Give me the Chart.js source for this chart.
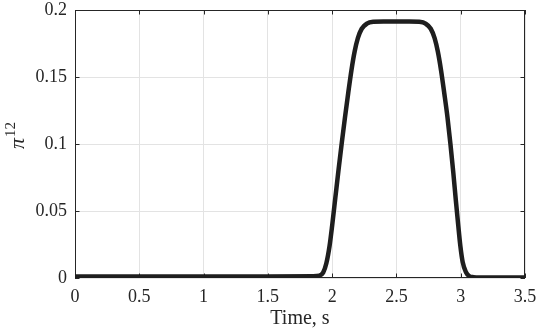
<!DOCTYPE html>
<html>
<head>
<meta charset="utf-8">
<script src="https://cdn.jsdelivr.net/npm/chart.js@4.4.1/dist/chart.umd.min.js"></script>
<style>
    html, body { margin: 0; padding: 0; background: #ffffff; }
    #chart { display: block; }
</style>
</head>
<body>
<canvas id="chart" width="540" height="336"></canvas>
<script>
// #region [01] Data (数据)
const timeValues = [
    0, 0.5, 1, 1.5, 1.85, 1.9, 1.93, 1.955, 1.98, 2.0,
    2.025, 2.05, 2.075, 2.1, 2.125, 2.15, 2.175, 2.2, 2.23, 2.27,
    2.32, 2.4, 2.5, 2.6, 2.677, 2.727, 2.767, 2.797, 2.822, 2.847,
    2.872, 2.897, 2.92, 2.942, 2.962, 2.98, 2.997, 3.015, 3.04, 3.065,
    3.1, 3.15, 3.5
];
const piValues = [
    0.0012, 0.0012, 0.0012, 0.0012, 0.0013, 0.0017, 0.004, 0.011, 0.024, 0.039,
    0.06, 0.081, 0.101, 0.12, 0.138, 0.155, 0.169, 0.179, 0.186, 0.1898,
    0.1912, 0.1915, 0.1915, 0.1915, 0.1912, 0.1898, 0.186, 0.179, 0.169, 0.155,
    0.138, 0.12, 0.1, 0.079, 0.058, 0.04, 0.024, 0.012, 0.0045, 0.0015,
    0.0006, 0.0004, 0.0004
];
const xTicks = [0, 0.5, 1, 1.5, 2, 2.5, 3, 3.5];
const yTicks = [0, 0.05, 0.1, 0.15, 0.2];
// #endregion

// #region [02] Style constants (样式常量)
const SERIF = '"Liberation Serif", "DejaVu Serif", serif';
const AXIS_COLOR = '#262626';
const GRID_COLOR = '#e3e3e3';
const TICK_LEN = 4.5;
// #endregion

// #region [03] MATLAB-like box, inward ticks and y label (边框、内向刻度与纵轴标签)
const matlabBox = {
    id: 'matlabBox',
    beforeDatasetsDraw(chart) {
        const { ctx, chartArea: a, scales } = chart;
        ctx.save();
        ctx.strokeStyle = AXIS_COLOR;
        ctx.lineWidth = 1;
        ctx.strokeRect(a.left + 0.5, a.top + 0.5, a.right - a.left - 1, a.bottom - a.top - 1);
        ctx.beginPath();
        xTicks.forEach(v => {
            const px = Math.round(scales.x.getPixelForValue(v)) + 0.5;
            ctx.moveTo(px, a.bottom); ctx.lineTo(px, a.bottom - TICK_LEN);
            ctx.moveTo(px, a.top); ctx.lineTo(px, a.top + TICK_LEN);
        });
        yTicks.forEach(v => {
            const py = Math.round(scales.y.getPixelForValue(v)) + 0.5;
            ctx.moveTo(a.left, py); ctx.lineTo(a.left + TICK_LEN, py);
            ctx.moveTo(a.right, py); ctx.lineTo(a.right - TICK_LEN, py);
        });
        ctx.stroke();
        ctx.restore();
    },
    afterDraw(chart) {
        const { ctx, chartArea: a } = chart;
        const cy = (a.top + a.bottom) / 2 - 8;
        ctx.save();
        ctx.translate(24, cy);
        ctx.rotate(-Math.PI / 2);
        ctx.fillStyle = AXIS_COLOR;
        ctx.textBaseline = 'alphabetic';
        ctx.font = `italic 22px ${SERIF}`;
        const w1 = ctx.measureText('π').width;
        ctx.font = `15px ${SERIF}`;
        const w2 = ctx.measureText('12').width;
        const x0 = -(w1 + w2) / 2;
        ctx.font = `italic 22px ${SERIF}`;
        ctx.fillText('π', x0, 0);
        ctx.font = `15px ${SERIF}`;
        ctx.fillText('12', x0 + w1 + 1, -9);
        ctx.restore();
    }
};
// #endregion

// #region [04] Chart (图表)
new Chart(document.getElementById('chart'), {
    type: 'line',
    data: {
        labels: timeValues,
        datasets: [{
            data: timeValues.map((t, i) => ({ x: t, y: piValues[i] })),
            borderColor: '#1e1e1e',
            borderWidth: 4.5,
            pointRadius: 0,
            cubicInterpolationMode: 'monotone',
            fill: false
        }]
    },
    options: {
        responsive: false,
        animation: false,
        layout: { padding: { top: 10, right: 15, left: 0, bottom: 0 } },
        plugins: { legend: { display: false }, tooltip: { enabled: false } },
        scales: {
            x: {
                type: 'linear',
                min: 0,
                max: 3.5,
                afterBuildTicks: s => { s.ticks = xTicks.map(v => ({ value: v })); },
                afterFit: s => { s.height = 58; s.paddingLeft = 0; s.paddingRight = 0; },
                ticks: {
                    color: AXIS_COLOR,
                    font: { family: SERIF, size: 18 },
                    padding: 8,
                    maxRotation: 0,
                    callback: v => String(v)
                },
                grid: { color: GRID_COLOR, drawTicks: false },
                border: { display: false },
                title: {
                    display: true,
                    text: 'Time, s',
                    color: AXIS_COLOR,
                    font: { family: SERIF, size: 20 },
                    padding: { top: 0, bottom: 5 }
                }
            },
            y: {
                min: 0,
                max: 0.2,
                afterBuildTicks: s => { s.ticks = yTicks.map(v => ({ value: v })); },
                afterFit: s => { s.width = 75; s.paddingTop = 0; s.paddingBottom = 0; },
                ticks: {
                    color: AXIS_COLOR,
                    font: { family: SERIF, size: 18 },
                    padding: 8,
                    callback: v => String(+v.toFixed(2))
                },
                grid: { color: GRID_COLOR, drawTicks: false },
                border: { display: false }
            }
        }
    },
    plugins: [matlabBox]
});
// #endregion
</script>
</body>
</html>
